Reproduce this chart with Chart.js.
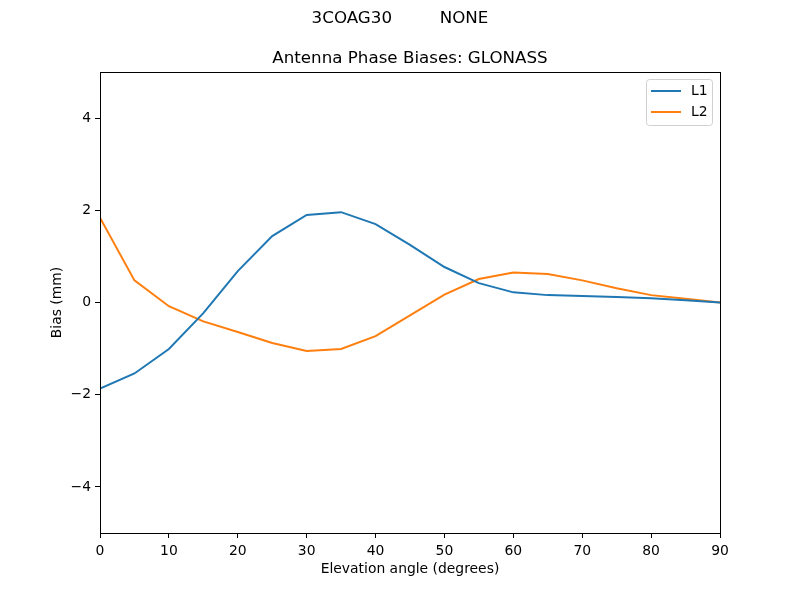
<!DOCTYPE html>
<html>
<head>
<meta charset="utf-8">
<script src="https://cdn.jsdelivr.net/npm/chart.js@4.4.0/dist/chart.umd.min.js"></script>
<style>
  html, body { margin: 0; padding: 0; background: #fff; }
  #wrap { width: 800px; height: 600px; }
</style>
</head>
<body>
<div id="wrap"><canvas id="chart" width="800" height="600"></canvas></div>
<script>
const elevation = [0, 5, 10, 15, 20, 25, 30, 35, 40, 45, 50, 55, 60, 65, 70, 75, 80, 85, 90];
const l1Bias = [-1.87, -1.54, -1.01, -0.23, 0.68, 1.44, 1.90, 1.96, 1.70, 1.25, 0.77, 0.42, 0.22, 0.16, 0.14, 0.12, 0.09, 0.05, 0.0];
const l2Bias = [1.84, 0.48, -0.08, -0.41, -0.64, -0.88, -1.05, -1.01, -0.73, -0.28, 0.17, 0.51, 0.65, 0.62, 0.48, 0.31, 0.16, 0.08, 0.0];
const xTicks = [0, 10, 20, 30, 40, 50, 60, 70, 80, 90];
const yTicks = [-4, -2, 0, 2, 4];

const FONT = 'DejaVu Sans';
const suptitle = '3COAG30         NONE';
const title = 'Antenna Phase Biases: GLONASS';

const toPoints = (ys) => elevation.map((x, i) => ({ x: x, y: ys[i] }));
const fmt = (v) => String(v).replace('-', '\u2212');

// box round the axes, titles and the legend, drawn the matplotlib way
const framePlugin = {
  id: 'frame',
  afterDraw(chart) {
    const { ctx, chartArea: a } = chart;
    ctx.save();
    ctx.strokeStyle = '#000';
    ctx.lineWidth = 1;
    ctx.strokeRect(Math.round(a.left) + 0.5, Math.round(a.top) + 0.5,
      Math.round(a.right - a.left), Math.round(a.bottom - a.top));

    ctx.fillStyle = '#000';
    ctx.textAlign = 'center';
    ctx.textBaseline = 'middle';
    ctx.font = `16.7px "${FONT}"`;
    ctx.fillText(suptitle, 400, 18.5);
    ctx.fillText(title, (a.left + a.right) / 2, 58.5);

    // legend
    const bx = 646.5, by = 79.5, bw = 66, bh = 46;
    ctx.beginPath();
    ctx.roundRect(bx, by, bw, bh, 3);
    ctx.fillStyle = 'rgba(255,255,255,0.8)';
    ctx.fill();
    ctx.strokeStyle = 'rgba(204,204,204,0.9)';
    ctx.stroke();
    ctx.font = `13.9px "${FONT}"`;
    ctx.textAlign = 'left';
    chart.data.datasets.forEach((ds, i) => {
      const y = 91 + i * 21;
      ctx.beginPath();
      ctx.strokeStyle = ds.borderColor;
      ctx.lineWidth = 2;
      ctx.moveTo(651, y);
      ctx.lineTo(681, y);
      ctx.stroke();
      ctx.fillStyle = '#000';
      ctx.fillText(ds.label, 691, y);
    });
    ctx.restore();
  }
};

new Chart(document.getElementById('chart'), {
  type: 'line',
  data: {
    datasets: [
      { label: 'L1', data: toPoints(l1Bias), borderColor: '#1f77b4', backgroundColor: '#1f77b4', borderWidth: 2, pointRadius: 0, tension: 0 },
      { label: 'L2', data: toPoints(l2Bias), borderColor: '#ff7f0e', backgroundColor: '#ff7f0e', borderWidth: 2, pointRadius: 0, tension: 0 }
    ]
  },
  options: {
    responsive: false,
    animation: false,
    layout: { padding: { left: 45, right: 80, top: 72, bottom: 22 } },
    plugins: {
      legend: { display: false },
      title: { display: false },
      tooltip: { enabled: false }
    },
    scales: {
      x: {
        type: 'linear',
        min: 0,
        max: 90,
        afterBuildTicks: (scale) => { scale.ticks = xTicks.map(v => ({ value: v })); },
        afterFit: (scale) => { scale.height = 45; },
        grid: { drawOnChartArea: false, drawTicks: true, tickLength: 5, tickColor: '#000' },
        border: { display: true, color: '#000' },
        ticks: { color: '#000', padding: 5, maxRotation: 0, font: { family: FONT, size: 13.9 }, callback: fmt },
        title: { display: true, text: 'Elevation angle (degrees)', color: '#000', padding: 0, font: { family: FONT, size: 13.9 } }
      },
      y: {
        type: 'linear',
        min: -5,
        max: 5,
        afterBuildTicks: (scale) => { scale.ticks = yTicks.map(v => ({ value: v })); },
        afterFit: (scale) => { scale.width = 55; },
        grid: { drawOnChartArea: false, drawTicks: true, tickLength: 5, tickColor: '#000' },
        border: { display: true, color: '#000' },
        ticks: { color: '#000', padding: 4, font: { family: FONT, size: 13.9 }, callback: fmt },
        title: { display: true, text: 'Bias (mm)', color: '#000', padding: 4, font: { family: FONT, size: 13.9 } }
      }
    }
  },
  plugins: [framePlugin]
});
</script>
</body>
</html>
